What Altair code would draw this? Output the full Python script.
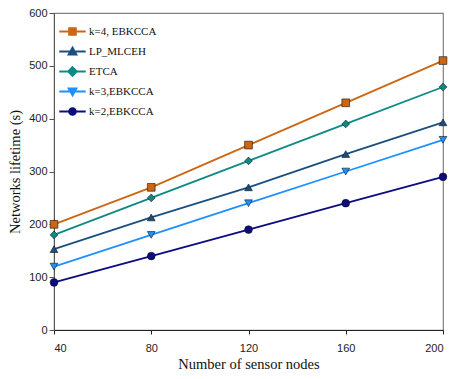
import altair as alt
import pandas as pd

nodes = [40, 80, 120, 160, 200]
series_names = ["k=4, EBKCCA", "LP_MLCEH", "ETCA", "k=3,EBKCCA", "k=2,EBKCCA"]
k4_ebkcca = [200, 270, 350, 430, 510]
lp_mlceh = [153, 213, 270, 333, 393]
etca = [180, 250, 320, 390, 460]
k3_ebkcca = [120, 180, 240, 300, 360]
k2_ebkcca = [90, 140, 190, 240, 290]
y_ticks = [0, 100, 200, 300, 400, 500, 600]

colors = ["#CC6614", "#1B4F80", "#0E8A85", "#1E90FF", "#0B0B82"]
plot_shapes = ["square", "triangle-up", "diamond", "triangle-down", "circle"]
legend_shapes = [
    "M-3.3,0H3.3M-0.85,-0.85H0.85V0.85H-0.85Z",
    "M-3.3,0H3.3M0,-1L1,0.75H-1Z",
    "M-3.3,0H3.3M0,-1.1L1.1,0L0,1.1L-1.1,0Z",
    "M-3.3,0H3.3M0,1L1,-0.75H-1Z",
    "M-3.3,0H3.3M-0.85,0A0.85,0.85 0 1,0 0.85,0A0.85,0.85 0 1,0 -0.85,0Z",
]

values = [k4_ebkcca, lp_mlceh, etca, k3_ebkcca, k2_ebkcca]
rows = []
for name, vals in zip(series_names, values):
    for n, v in zip(nodes, vals):
        rows.append({"nodes": n, "lifetime": v, "series": name})
df = pd.DataFrame(rows)

x_enc = alt.X("nodes:Q", scale=alt.Scale(domain=[40, 200], nice=False),
              axis=alt.Axis(values=nodes, title="Number of sensor nodes",
                            grid=False, tickSize=4, labelPadding=8,
                            titlePadding=4, domainColor="#222", tickColor="#222"))
y_enc = alt.Y("lifetime:Q", scale=alt.Scale(domain=[0, 600], nice=False),
              axis=alt.Axis(values=y_ticks, title="Networks lifetime (s)",
                            grid=False, tickSize=5, labelPadding=2,
                            titlePadding=6, domainColor="#555", tickColor="#555"))

base = alt.Chart(df)

lines = base.mark_line(strokeWidth=1.8).encode(
    x=x_enc, y=y_enc,
    color=alt.Color("series:N", scale=alt.Scale(domain=series_names, range=colors), legend=None),
    detail="series:N",
)

points = base.mark_point(filled=True, size=60, stroke="#111", strokeWidth=0.6, opacity=1).encode(
    x=x_enc, y=y_enc,
    fill=alt.Fill("series:N", scale=alt.Scale(domain=series_names, range=colors), legend=None),
    shape=alt.Shape("series:N", scale=alt.Scale(domain=series_names, range=plot_shapes), legend=None),
)

legend_layer = base.transform_filter("false").mark_point(filled=True).encode(
    x=x_enc, y=y_enc,
    fill=alt.Fill("series:N", scale=alt.Scale(domain=series_names, range=colors),
                  legend=alt.Legend(title=None)),
    stroke=alt.Stroke("series:N", scale=alt.Scale(domain=series_names, range=colors),
                      legend=alt.Legend(title=None)),
    shape=alt.Shape("series:N", scale=alt.Scale(domain=series_names, range=legend_shapes),
                    legend=alt.Legend(title=None)),
)

chart = alt.layer(lines, points, legend_layer).resolve_scale(
    color="independent", fill="independent", shape="independent", stroke="independent"
).properties(
    width=389, height=317,
    autosize=alt.AutoSizeParams(type="none"),
    padding={"left": 54, "top": 13, "right": 8, "bottom": 49},
).configure_view(
    stroke="#808080", strokeWidth=1.2
).configure_axis(
    labelFont="Liberation Sans", labelFontSize=11, labelColor="#222",
    titleFont="Liberation Serif", titleFontSize=14.5, titleFontWeight="normal", titleColor="#111",
).configure_legend(
    orient="none", legendX=13, legendY=13, padding=0,
    symbolSize=64, symbolStrokeWidth=1.8, labelOffset=11,
    labelFont="Liberation Serif", labelFontSize=11, labelColor="#111",
    rowPadding=4, symbolOpacity=1,
)

chart.save("out.html", embed_options={"renderer": "svg", "actions": False})
